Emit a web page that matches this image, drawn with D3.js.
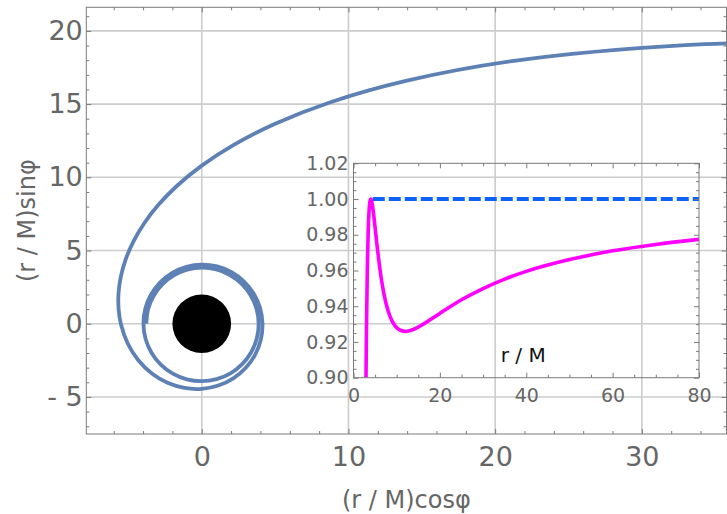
<!DOCTYPE html>
<html><head><meta charset="utf-8">
<script src="https://cdn.jsdelivr.net/npm/d3@7"></script>
<style>
body{margin:0;background:#fff}
svg{display:block;font-family:"DejaVu Sans",sans-serif}
</style>
</head><body>
<svg id="chart" width="727" height="514"></svg>
<script>
// Orbit of the test particle, polar form: angle φ in degrees, radius r/M
const orbitPhi = [24,30,40,50,60,70,80,90,100,110,120,130,140,150,160,170,180,
  195,210,225,240,255,270,285,300,315,330,345,360,375,390,405,420,435,450,465,480,
  495,510,525,540,555,570,585,600,615,630,645,660,675,690,705,720,
  735,750,765,780,795,810,825,840,855,870,885,900];
const orbitR = [47.35,38.06,27.96,21.65,17.45,14.52,12.39,10.80,9.587,8.639,7.886,7.279,6.784,6.377,6.038,5.755,5.516,
  5.223,4.992,4.809,4.661,4.542,4.446,4.367,4.303,4.250,4.207,4.172,4.141,4.117,4.097,4.080,4.065,4.050,4.038,4.026,4.015,
  4.004,3.994,3.984,3.975,3.966,3.957,3.948,3.940,3.932,3.924,3.916,3.908,3.900,3.892,3.884,3.876,
  3.868,3.860,3.852,3.844,3.836,3.828,3.820,3.812,3.804,3.796,3.788,3.780];
const horizonR = 2;

// Main axes ticks
const xMajor = [0,10,20,30];
const xMajorLabels = ["0","10","20","30"];
const yMajor = [-5,0,5,10,15,20];
const yMajorLabels = ["- 5","0","5","10","15","20"];
const xMinor = [-6,-4,-2,2,4,6,8,12,14,16,18,22,24,26,28,32,34];
const yMinor = [-7,-6,-4,-3,-2,-1,1,2,3,4,6,7,8,9,11,12,13,14,16,17,18,19,21];

// Inset: effective potential vs r/M
const potR = [2.85,2.9,3.0,3.2,3.4,3.6,3.8,4.0,4.2,4.5,5,5.5,6,7,8,9,10,11,12,13,14,16,18,20,25,30,35,40,50,60,70,80];
const potV = [0.8858,0.9008,0.9259,0.9609,0.9816,0.9931,0.9985,1.0000,0.9989,0.9945,0.9840,0.9730,0.9630,0.9475,0.9375,0.9314,0.9280,0.9264,0.9259,0.9263,0.9271,0.9297,0.9328,0.9360,0.9436,0.9499,0.9552,0.9595,0.9661,0.9710,0.9746,0.9774];
const levelR = [4,80];
const levelV = [1.0,1.0];
const insetXMajor = [0,20,40,60,80];
const insetXLabels = ["0","20","40","60","80"];
const insetYMajor = [0.90,0.92,0.94,0.96,0.98,1.00,1.02];
const insetYLabels = ["0.90","0.92","0.94","0.96","0.98","1.00","1.02"];
const insetXMinor = [5,10,15,25,30,35,45,50,55,65,70,75];
const insetYMinor = [0.905,0.91,0.915,0.925,0.93,0.935,0.945,0.95,0.955,0.965,0.97,0.975,0.985,0.99,0.995,1.005,1.01,1.015];

const svg = d3.select("#chart");
const gridCol = "#cccccc", frameCol = "#7a7a7a", textCol = "#666666";

// ---------- main panel ----------
const L = 86.3, R = 726.5, T = 7.3, B = 434;
const x = d3.scaleLinear().domain([-7.87, 35.77]).range([L, R]);
const y = d3.scaleLinear().domain([-7.53, 21.61]).range([B, T]);

svg.append("defs").append("clipPath").attr("id","mainClip")
  .append("rect").attr("x",L).attr("y",T).attr("width",R-L).attr("height",B-T);

const grid = svg.append("g").attr("stroke",gridCol).attr("stroke-width",1.6);
grid.selectAll(".gx").data(xMajor).join("line")
  .attr("x1",d=>x(d)).attr("x2",d=>x(d)).attr("y1",T).attr("y2",B);
grid.selectAll(".gy").data(yMajor).join("line")
  .attr("y1",d=>y(d)).attr("y2",d=>y(d)).attr("x1",L).attr("x2",R);

function styleAxis(g){
  g.select(".domain").remove();
  g.selectAll(".tick line").attr("stroke",frameCol).attr("stroke-width",1);
  g.selectAll(".tick text").attr("fill",textCol);
}
function addAxes(xs, ys, box, xMaj, xLab, xMin, yMaj, yLab, yMin, opts){
  const {l,r,t,b} = box;
  const fmtX = d => xLab[xMaj.indexOf(d)];
  const fmtY = d => yLab[yMaj.indexOf(d)];
  // bottom
  svg.append("g").attr("transform",`translate(0,${b})`)
    .call(d3.axisBottom(xs).tickValues(xMaj).tickFormat(fmtX).tickSizeInner(-opts.major).tickSizeOuter(0).tickPadding(opts.xPad))
    .call(styleAxis).call(g=>g.selectAll("text").attr("font-size",opts.fs).attr("font-family","DejaVu Sans"));
  svg.append("g").attr("transform",`translate(0,${b})`)
    .call(d3.axisBottom(xs).tickValues(xMin).tickFormat("").tickSizeInner(-opts.minor).tickSizeOuter(0)).call(styleAxis);
  // top
  svg.append("g").attr("transform",`translate(0,${t})`)
    .call(d3.axisTop(xs).tickValues(xMaj).tickFormat("").tickSizeInner(-opts.major).tickSizeOuter(0)).call(styleAxis);
  svg.append("g").attr("transform",`translate(0,${t})`)
    .call(d3.axisTop(xs).tickValues(xMin).tickFormat("").tickSizeInner(-opts.minor).tickSizeOuter(0)).call(styleAxis);
  // left
  svg.append("g").attr("transform",`translate(${l},0)`)
    .call(d3.axisLeft(ys).tickValues(yMaj).tickFormat(fmtY).tickSizeInner(-opts.major).tickSizeOuter(0).tickPadding(opts.yPad))
    .call(styleAxis).call(g=>g.selectAll("text").attr("font-size",opts.fs).attr("font-family","DejaVu Sans"));
  svg.append("g").attr("transform",`translate(${l},0)`)
    .call(d3.axisLeft(ys).tickValues(yMin).tickFormat("").tickSizeInner(-opts.minor).tickSizeOuter(0)).call(styleAxis);
  // right
  svg.append("g").attr("transform",`translate(${r},0)`)
    .call(d3.axisRight(ys).tickValues(yMaj).tickFormat("").tickSizeInner(-opts.major).tickSizeOuter(0)).call(styleAxis);
  svg.append("g").attr("transform",`translate(${r},0)`)
    .call(d3.axisRight(ys).tickValues(yMin).tickFormat("").tickSizeInner(-opts.minor).tickSizeOuter(0)).call(styleAxis);
  // frame
  svg.append("rect").attr("x",l).attr("y",t).attr("width",r-l).attr("height",b-t)
    .attr("fill","none").attr("stroke",frameCol).attr("stroke-width",1);
}

// orbit
const orbitPts = orbitPhi.map((p,i)=>{
  const a = p*Math.PI/180;
  return [orbitR[i]*Math.cos(a), orbitR[i]*Math.sin(a)];
});
svg.append("path").datum(orbitPts)
  .attr("clip-path","url(#mainClip)")
  .attr("d", d3.line().x(d=>x(d[0])).y(d=>y(d[1])).curve(d3.curveCatmullRom.alpha(0.5)))
  .attr("fill","none").attr("stroke","#5e81b5").attr("stroke-width",3.8).attr("stroke-linejoin","round");

// black hole (horizon r = 2M)
svg.append("ellipse").attr("cx",x(0)).attr("cy",y(0))
  .attr("rx",x(horizonR)-x(0)).attr("ry",y(0)-y(horizonR)).attr("fill","#000");

addAxes(x, y, {l:L,r:R,t:T,b:B}, xMajor, xMajorLabels, xMinor, yMajor, yMajorLabels, yMinor,
  {major:5, minor:3, fs:27, xPad:13, yPad:3.5});

// axis titles
svg.append("text").attr("x",(L+R)/2).attr("y",508).attr("text-anchor","middle")
  .attr("font-size",24).attr("fill",textCol).text("(r / M)cosφ");
svg.append("text").attr("transform",`translate(35,${(T+B)/2}) rotate(-90)`).attr("text-anchor","middle")
  .attr("font-size",24).attr("fill",textCol).text("(r / M)sinφ");

// ---------- inset ----------
const iL = 353.5, iR = 699, iT = 163.3, iB = 377.7;
const ix = d3.scaleLinear().domain([0,80]).range([iL,iR]);
const iy = d3.scaleLinear().domain([0.90,1.02]).range([iB,iT]);

svg.select("defs").append("clipPath").attr("id","insetClip")
  .append("rect").attr("x",iL).attr("y",iT).attr("width",iR-iL).attr("height",iB-iT);

svg.append("path").datum(levelR.map((r,i)=>[r,levelV[i]]))
  .attr("clip-path","url(#insetClip)")
  .attr("d", d3.line().x(d=>ix(d[0])).y(d=>iy(d[1])))
  .attr("fill","none").attr("stroke","#0a62ff").attr("stroke-width",4)
  .attr("stroke-dasharray","12,4").attr("stroke-dashoffset",14);

svg.append("path").datum(potR.map((r,i)=>[r,potV[i]]))
  .attr("clip-path","url(#insetClip)")
  .attr("d", d3.line().x(d=>ix(d[0])).y(d=>iy(d[1])).curve(d3.curveMonotoneX))
  .attr("fill","none").attr("stroke","#ff00ff").attr("stroke-width",3.6).attr("stroke-linejoin","round");

addAxes(ix, iy, {l:iL,r:iR,t:iT,b:iB}, insetXMajor, insetXLabels, insetXMinor, insetYMajor, insetYLabels, insetYMinor,
  {major:5, minor:3, fs:19, xPad:10.5, yPad:5});

svg.append("text").attr("x",ix(39.3)).attr("y",361.7).attr("text-anchor","middle")
  .attr("font-size",20).attr("fill","#111").text("r / M");
</script>
</body></html>
